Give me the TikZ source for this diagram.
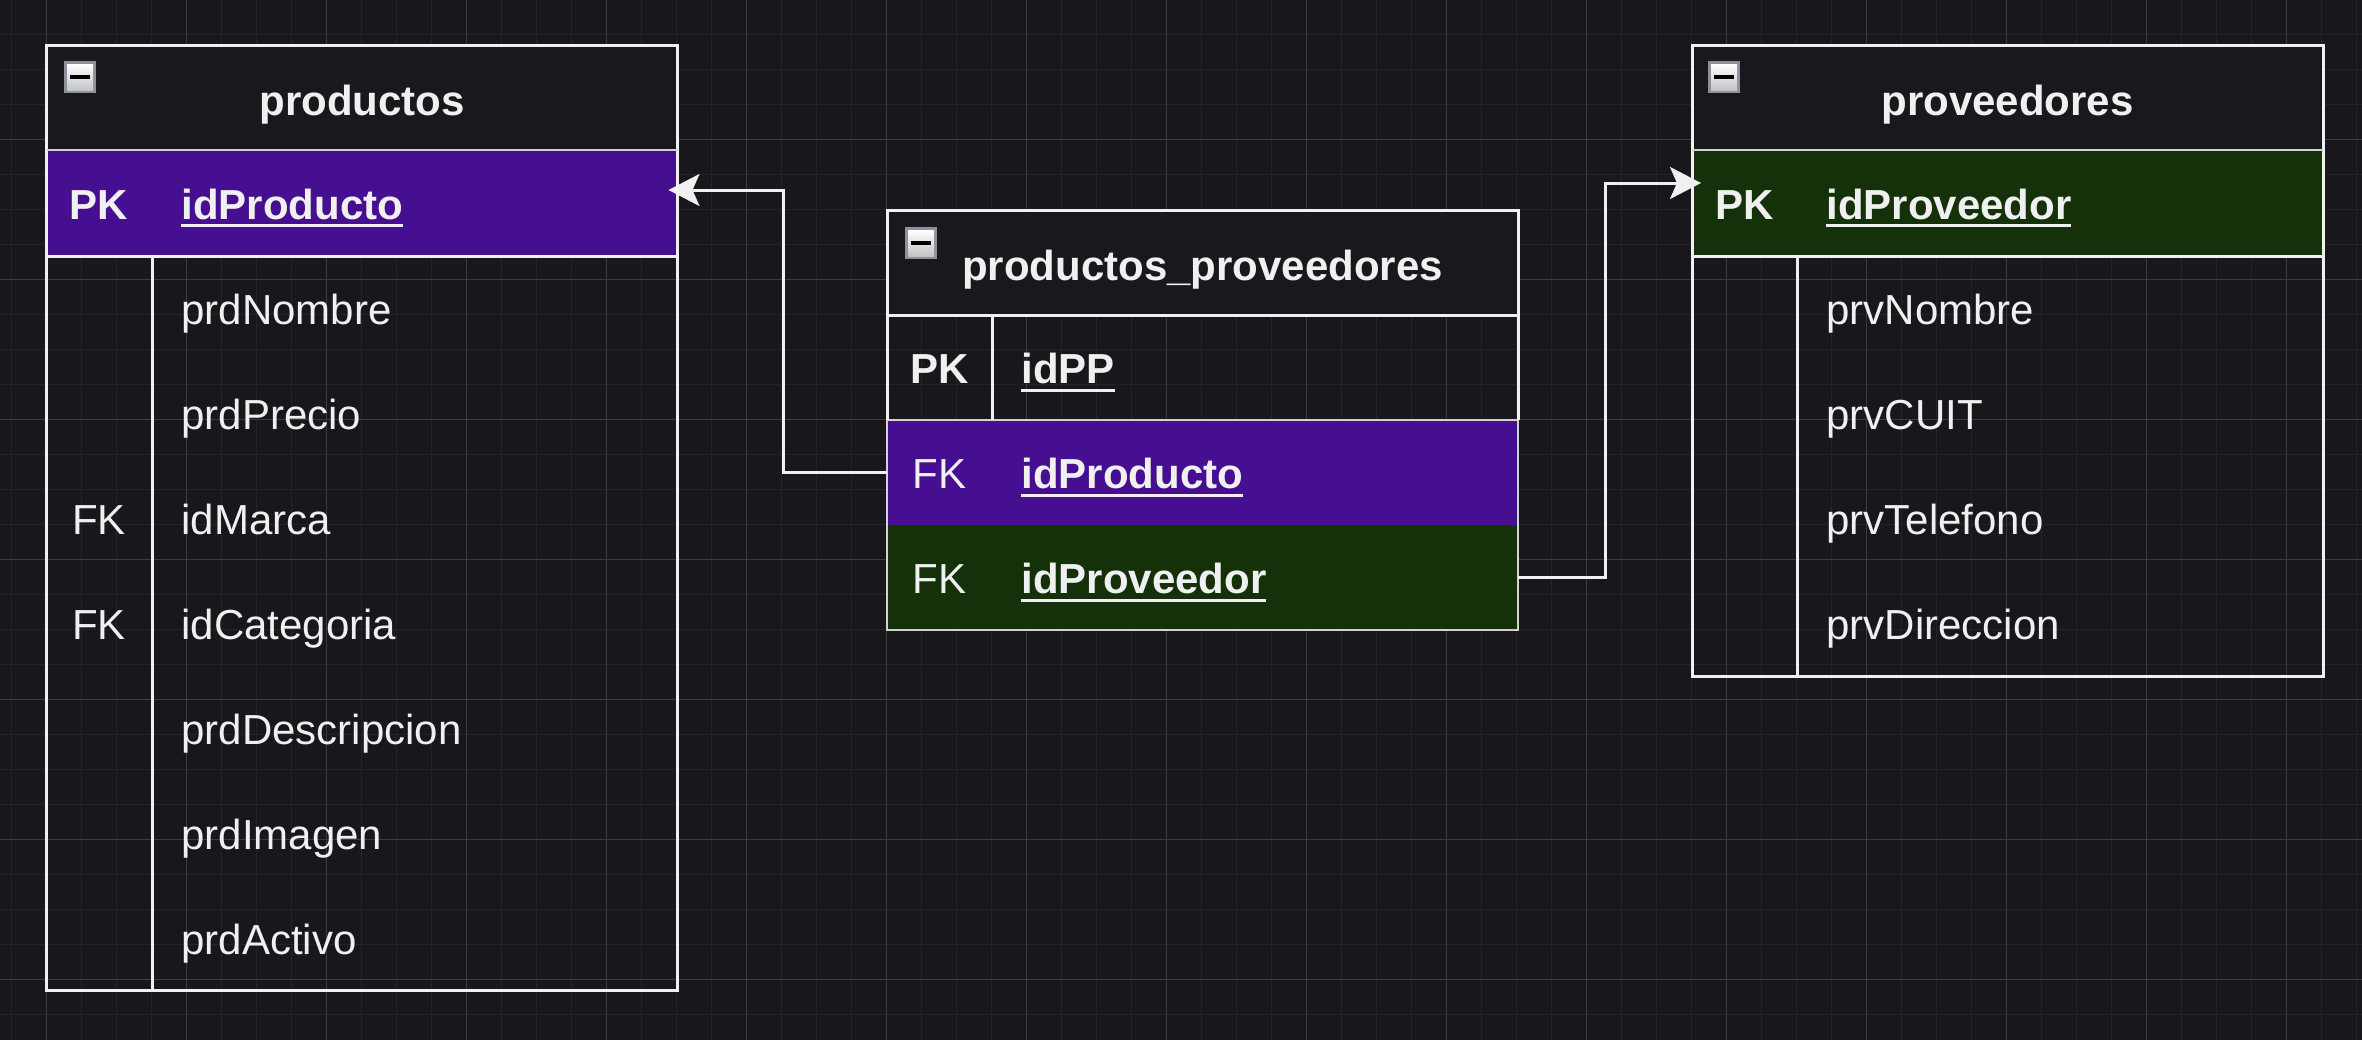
\documentclass[tikz,border=0pt]{standalone}
\usepackage{fontspec}
\setmainfont{Liberation Sans}
\usetikzlibrary{arrows.meta}
\definecolor{bg}{RGB}{24,23,28}
\definecolor{hdr}{RGB}{25,24,29}
\definecolor{gridminor}{RGB}{36,35,41}
\definecolor{gridmajor}{RGB}{60,59,65}
\definecolor{fg}{RGB}{240,240,240}
\definecolor{thinline}{RGB}{210,210,210}
\definecolor{pkpurple}{RGB}{70,15,146}
\definecolor{fkgreen}{RGB}{20,49,10}
\definecolor{iconborder}{RGB}{140,146,155}
\definecolor{iconlow}{RGB}{196,196,198}
\newcommand\fldul[1]{\setbox0\hbox{#1}\rlap{\rule[-4pt]{\wd0}{1.5pt}}\box0}
\newcommand\collapseicon[2]{%
  \fill[iconborder] (#1,#2) rectangle ++(32,32);
  \shade[top color=white,bottom color=iconlow] (#1+3,#2+3) rectangle ++(26,26);
  \fill[black] (#1+6,#2+14) rectangle ++(20,4);
}
\begin{document}
\begin{tikzpicture}[x=0.5pt,y=-0.5pt,
  rowbox/.style={rectangle,inner sep=0pt,outer sep=0pt,anchor=north west,minimum width=315.5pt,draw=none},
  txt/.style={text=fg,inner sep=0pt,font=\fontsize{21}{25}\selectfont},
  fld/.style={txt,anchor=base west},
  keylbl/.style={txt,anchor=base},
  ttl/.style={txt,anchor=base,font=\fontsize{21}{25}\selectfont\bfseries},
  thick border/.style={draw=fg,line width=1.5pt},
  thin border/.style={draw=thinline,line width=1pt},
  conn/.style={draw=fg,line width=1.5pt,-{Stealth[length=15.5pt,width=16pt,inset=3.5pt]},shorten >=-4.5pt}
]
\useasboundingbox (0,0) rectangle (2362,1040);
\fill[bg] (0,0) rectangle (2362,1040);
% grid
\foreach \i in {0,...,67} {\draw[gridminor,line width=0.5pt] (11.5+35*\i,0) -- (11.5+35*\i,1040);}
\foreach \j in {0,...,30} {\draw[gridminor,line width=0.5pt] (0,-0.7+35*\j) -- (2362,-0.7+35*\j);}
\foreach \i in {0,...,16} {\draw[gridmajor,line width=0.6pt] (46.5+140*\i,0) -- (46.5+140*\i,1040);}
\foreach \j in {0,...,7} {\draw[gridmajor,line width=0.6pt] (0,-0.7+140*\j) -- (2362,-0.7+140*\j);}

% ---------- productos ----------
\node[rowbox,fill=hdr,minimum height=52.5pt] (pHead) at (46.5,45) {};
\node[rowbox,fill=pkpurple,minimum height=53pt] (pPK) at (46.5,150) {};
\node[rowbox,minimum height=367pt] (pBody) at (46.5,256) {};
\draw[thick border] (46.5,45) rectangle (677.5,990);
\draw[thin border] (46.5,150) -- (677.5,150);
\draw[thick border] (46.5,256) -- (677.5,256);
\draw[thick border] (152,256) -- (152,990);
\collapseicon{64}{61}
\node[ttl] (pTitle) at (362,115) {productos};
\node[keylbl,font=\fontsize{21}{25}\selectfont\bfseries] (pPKk) at (99,219) {PK};
\node[fld,font=\fontsize{21}{25}\selectfont\bfseries] (pPKf) at (181,219) {\fldul{idProducto}};
\node[fld] (pF1) at (181,324.5) {prdNombre};
\node[fld] (pF2) at (181,429.5) {prdPrecio};
\node[keylbl] (pK3) at (99,534.5) {FK};
\node[fld] (pF3) at (181,534.5) {idMarca};
\node[keylbl] (pK4) at (99,639.5) {FK};
\node[fld] (pF4) at (181,639.5) {idCategoria};
\node[fld] (pF5) at (181,744.5) {prdDescripcion};
\node[fld] (pF6) at (181,849.5) {prdImagen};
\node[fld] (pF7) at (181,954.5) {prdActivo};

% ---------- productos_proveedores ----------
\node[rowbox,fill=hdr,minimum height=52.5pt] (ppHead) at (887,210) {};
\node[rowbox,minimum height=52.5pt] (ppPK) at (887,315) {};
\node[rowbox,fill=pkpurple,minimum height=52.5pt] (ppFK1) at (887,420) {};
\node[rowbox,fill=fkgreen,minimum height=52.5pt] (ppFK2) at (887,525) {};
\draw[thin border] (887,420) rectangle (1518,630);
\draw[thick border] (887,420) -- (887,210) -- (1518,210) -- (1518,420);
\draw[thick border] (887,315) -- (1518,315);
\draw[thick border] (992,315) -- (992,420);
\collapseicon{905}{227}
\node[ttl] (ppTitle) at (1202.5,280) {productos\_proveedores};
\node[keylbl,font=\fontsize{21}{25}\selectfont\bfseries] (ppK0) at (939.5,383.5) {PK};
\node[fld,font=\fontsize{21}{25}\selectfont\bfseries] (ppF0) at (1021,383.5) {\fldul{idPP}};
\node[keylbl] (ppK1) at (939.5,488.5) {FK};
\node[fld,font=\fontsize{21}{25}\selectfont\bfseries] (ppF1) at (1021,488.5) {\fldul{idProducto}};
\node[keylbl] (ppK2) at (939.5,593.5) {FK};
\node[fld,font=\fontsize{21}{25}\selectfont\bfseries] (ppF2) at (1021,593.5) {\fldul{idProveedor}};

% ---------- proveedores ----------
\node[rowbox,fill=hdr,minimum height=52.5pt] (vHead) at (1692,45) {};
\node[rowbox,fill=fkgreen,minimum height=53pt] (vPK) at (1692,150) {};
\node[rowbox,minimum height=210pt] (vBody) at (1692,256) {};
\draw[thick border] (1692,45) rectangle (2323,676);
\draw[thin border] (1692,150) -- (2323,150);
\draw[thick border] (1692,256) -- (2323,256);
\draw[thick border] (1797,256) -- (1797,676);
\collapseicon{1708}{61}
\node[ttl] (vTitle) at (2007.5,115) {proveedores};
\node[keylbl,font=\fontsize{21}{25}\selectfont\bfseries] (vPKk) at (1744.5,219) {PK};
\node[fld,font=\fontsize{21}{25}\selectfont\bfseries] (vPKf) at (1826,219) {\fldul{idProveedor}};
\node[fld] (vF1) at (1826,324.5) {prvNombre};
\node[fld] (vF2) at (1826,429.5) {prvCUIT};
\node[fld] (vF3) at (1826,534.5) {prvTelefono};
\node[fld] (vF4) at (1826,639.5) {prvDireccion};

% ---------- connectors ----------
\draw[conn] (ppFK1.west) -- ++(-104,0) |- ([yshift=6.5pt]pPK.east);
\draw[conn] (ppFK2.east) -- ++(87,0) |- ([yshift=10pt]vPK.west);
\end{tikzpicture}
\end{document}
